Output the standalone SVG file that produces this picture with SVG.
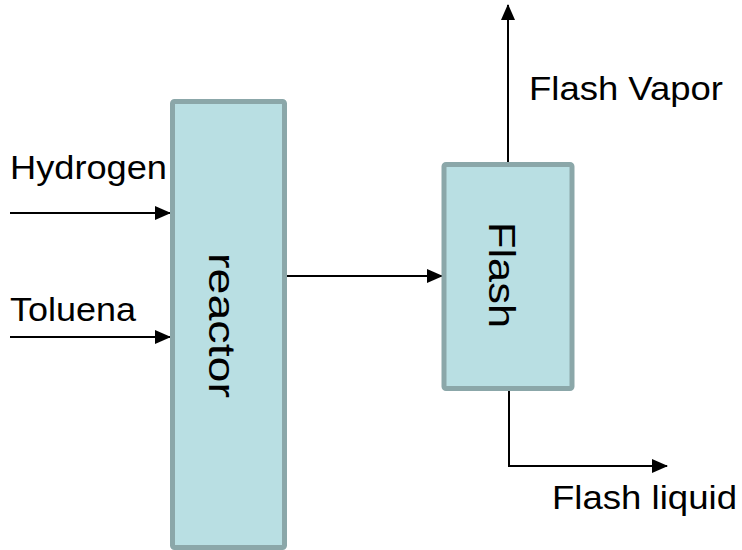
<svg xmlns="http://www.w3.org/2000/svg" width="742" height="550" viewBox="0 0 742 550">
<style>
.box{fill:#B9DFE3;stroke:#8BA7A9;stroke-width:5}
.lbl{font-family:"Liberation Sans",Arial,sans-serif;font-size:33px;fill:#000}
.vt{font-family:"Liberation Sans",Arial,sans-serif;font-size:36px;fill:#000}
.ln{stroke:#000;stroke-width:2;fill:none}
</style>
<defs>
<marker id="ah" markerUnits="userSpaceOnUse" markerWidth="16" markerHeight="14" refX="15" refY="7" orient="auto">
<path d="M0,0 L16,7 L0,14 z" fill="#000"/>
</marker>
</defs>
<rect width="742" height="550" fill="#fff"/>
<g id="connectors">
<line class="ln" x1="10" y1="213" x2="170" y2="213" marker-end="url(#ah)"/>
<line class="ln" x1="10" y1="337" x2="170" y2="337" marker-end="url(#ah)"/>
<line class="ln" x1="287" y1="276" x2="442" y2="276" marker-end="url(#ah)"/>
<line class="ln" x1="508" y1="164" x2="508" y2="5" marker-end="url(#ah)"/>
<polyline class="ln" points="509,389 509,466 667,466" marker-end="url(#ah)"/>
</g>
<g id="reactor">
<rect class="box" x="172.5" y="101.5" width="112" height="446" rx="2"/>
<text class="vt" transform="translate(209,325.5) rotate(90)" text-anchor="middle" textLength="145" lengthAdjust="spacingAndGlyphs">reactor</text>
</g>
<g id="flash">
<rect class="box" x="444" y="164.5" width="128" height="224" rx="2"/>
<text class="vt" transform="translate(489,275) rotate(90)" text-anchor="middle" textLength="106" lengthAdjust="spacingAndGlyphs">Flash</text>
</g>
<g id="labels">
<text class="lbl" x="10" y="179" textLength="157" lengthAdjust="spacingAndGlyphs">Hydrogen</text>
<text class="lbl" x="10" y="321" textLength="126" lengthAdjust="spacingAndGlyphs">Toluena</text>
<text class="lbl" x="529" y="100" textLength="194" lengthAdjust="spacingAndGlyphs">Flash Vapor</text>
<text class="lbl" x="552" y="509" textLength="185" lengthAdjust="spacingAndGlyphs">Flash liquid</text>
</g>
</svg>
